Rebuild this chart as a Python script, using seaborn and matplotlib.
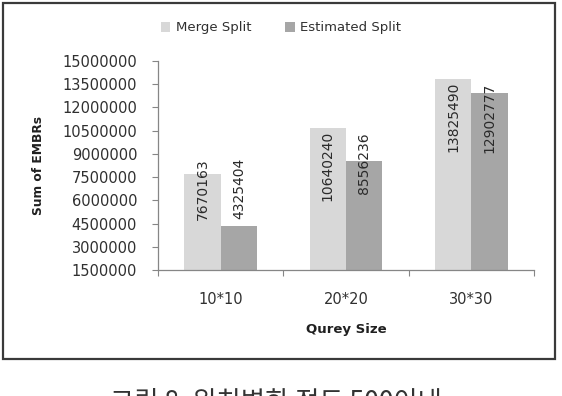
import matplotlib
matplotlib.use("Agg")
import matplotlib.pyplot as plt
import seaborn as sns
import pandas as pd
from matplotlib.patches import Rectangle, Patch
from matplotlib.ticker import FixedLocator

categories = ["10*10", "20*20", "30*30"]
series_names = ["Merge Split", "Estimated Split"]
merge_split = [7670163, 10640240, 13825490]
estimated_split = [4325404, 8556236, 12902777]
# where the top of each value label sits (data units)
merge_label_top = [8730000, 10480000, 13640000]
estimated_label_top = [8730000, 10410000, 13580000]
y_ticks = [1500000, 3000000, 4500000, 6000000, 7500000, 9000000,
           10500000, 12000000, 13500000, 15000000]
caption = "그림 8. 위치변화 정도 500이내"

df = pd.DataFrame({
    "Qurey Size": categories * 2,
    "value": merge_split + estimated_split,
    "series": [series_names[0]] * 3 + [series_names[1]] * 3,
})

sns.set_theme(style="white")
plt.rcParams["font.family"] = ["DejaVu Sans"]

colors = {"Merge Split": "#d8d8d8", "Estimated Split": "#a6a6a6"}

fig = plt.figure(figsize=(5.62, 3.96), dpi=100)
ax_w = 534 - 158
ax_h = 270 - 61
ax = fig.add_axes([158 / 562, 1 - 270 / 396, ax_w / 562, ax_h / 396])

sns.barplot(data=df, x="Qurey Size", y="value", hue="series", order=categories,
            hue_order=series_names, palette=colors, width=0.58, errorbar=None,
            linewidth=0, saturation=1, ax=ax, legend=False)

ax.set_ylim(y_ticks[0], y_ticks[-1])
ax.set_xlim(-0.5, 2.5)
ax.set_yticks(y_ticks)
ax.set_yticklabels([str(v) for v in y_ticks], fontsize=10.5, color="#303030")
ax.set_xticks(range(len(categories)))
ax.set_xticklabels(categories, fontsize=10.5, color="#303030")
ax.xaxis.set_minor_locator(FixedLocator([-0.5, 0.5, 1.5, 2.5]))
ax.tick_params(axis="x", which="major", length=0, pad=16)
ax.tick_params(axis="x", which="minor", length=4, width=0.8, color="#868686", direction="out", bottom=True)
ax.tick_params(axis="y", which="major", length=4, width=0.8, color="#868686", direction="out", left=True, pad=11)

for s in ["top", "right"]:
    ax.spines[s].set_visible(False)
for s in ["left", "bottom"]:
    ax.spines[s].set_color("#868686")
    ax.spines[s].set_linewidth(0.9)

ax.set_ylabel("Sum of EMBRs", fontsize=8.8, fontweight="bold", color="#202020", labelpad=0)
ax.yaxis.set_label_coords((45 - 158) / ax_w, 0.5)
ax.set_xlabel("Qurey Size", fontsize=9.5, fontweight="bold", color="#202020")
ax.xaxis.set_label_coords(0.5, -(323 - 270) / ax_h)

label_tops = [merge_label_top, estimated_label_top]
values = [merge_split, estimated_split]
for cont, tops, vals in zip(ax.containers, label_tops, values):
    for patch, top, v in zip(cont.patches, tops, vals):
        xc = patch.get_x() + patch.get_width() / 2
        ax.text(xc, top, str(v), rotation=90, ha="center", va="top",
                fontsize=10, color="#2a2a2a")

handles = [Patch(facecolor=colors[n], edgecolor="none") for n in series_names]
fig.legend(handles, series_names, loc="center", bbox_to_anchor=(281 / 562, 1 - 28 / 396),
           ncol=2, frameon=False, fontsize=9.5, handlelength=0.7, handleheight=0.7,
           handletextpad=0.4, columnspacing=2.6, labelcolor="#303030")

fig.patches.append(Rectangle((3 / 562, 1 - 359 / 396), 552 / 562, 356 / 396,
                             transform=fig.transFigure, fill=False,
                             edgecolor="#3a3a3a", linewidth=1.6))

fig.text(276 / 562, 1 - 389 / 396, caption, ha="center", va="top", fontsize=19,
         color="#333333", family=["Noto Sans CJK KR", "DejaVu Sans"])

fig.savefig("out.png", dpi=100)
